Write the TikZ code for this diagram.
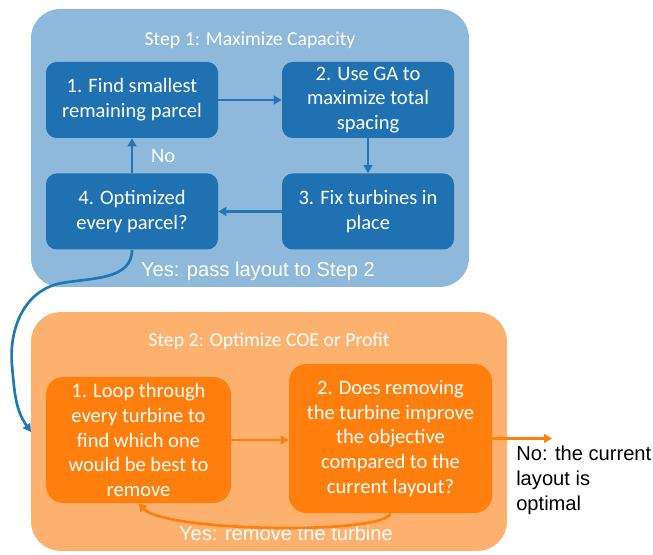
\documentclass[tikz,border=0pt]{standalone}
\usepackage{fontspec}
\setmainfont{Carlito}
\newfontfamily\arialfont{Liberation Sans}
\usepackage{tikz}
\usetikzlibrary{arrows.meta,positioning,calc}
\definecolor{panelblue}{RGB}{143,185,218}
\definecolor{boxblue}{RGB}{31,113,178}
\definecolor{lineblue}{RGB}{31,119,180}
\definecolor{panelorange}{RGB}{253,177,110}
\definecolor{boxorange}{RGB}{255,127,14}

\tikzset{
  panel/.style={rounded corners=22pt, inner sep=0pt},
  boxtext/.style={text=white, align=center, inner sep=2pt, font=\fontsize{15.4}{18.6}\selectfont},
  bluebox/.style={boxtext, fill=boxblue, rounded corners=8pt, minimum width=129pt, minimum height=57pt},
  orangebox/.style={boxtext, fill=boxorange, rounded corners=13pt},
  title/.style={text=white, font=\fontsize{14.8}{18}\selectfont},
  note/.style={font=\arialfont\fontsize{15.1}{18.8}\selectfont},
  bluearrow/.style={draw=lineblue, line width=2pt, -{Triangle[length=6pt,width=6.5pt]}},
  orangearrow/.style={draw=boxorange, line width=2pt, -{Triangle[length=6pt,width=6.5pt]}}
}

\begin{document}
\begin{tikzpicture}[x=0.75pt,y=-0.75pt]
\useasboundingbox (0,0) rectangle (653,555);

% step 1 panel
\node[panel, fill=panelblue, minimum width=328.5pt, minimum height=208.5pt] (step1) at (250,148) {};
\node[title] (t1) at (250,40) {Step 1: Maximize Capacity};
\node[bluebox] (b1) at (132,100) {1. Find smallest\\remaining parcel};
\node[bluebox] (b2) at (368,100) {2. Use GA to\\maximize total\\spacing};
\node[bluebox] (b3) at (368,211.5) {3. Fix turbines in\\place};
\node[bluebox] (b4) at (132,211.5) {4. Optimized\\every parcel?};
\node[note, text=white] (yes1) at (258,271) {Yes: pass layout to Step 2};

% step 2 panel
\node[panel, fill=panelorange, minimum width=357pt, minimum height=179pt] (step2) at (269,431.5) {};
\node[title] (t2) at (269,341) {Step 2: Optimize COE or Profit};
\node[orangebox, minimum width=138.75pt, minimum height=94.5pt] (o1) at (138.5,440)
  {1. Loop through\\every turbine to\\find which one\\would be best to\\remove};
\node[orangebox, minimum width=152.25pt, minimum height=111.75pt] (o2) at (390.5,438.5)
  {2. Does removing\\the turbine improve\\the objective\\compared to the\\current layout?};
\node[note, text=white] (yes2) at (286,533) {Yes: remove the turbine};
\node[note, anchor=north west, align=left, inner sep=0pt] (no2) at (516,446) {No: the current\\layout is\\optimal};

\coordinate (entry) at (31,432);
\coordinate (done) at (552,438.5);

% loop of step 1
\draw[bluearrow] (b1) -- (b2);
\draw[bluearrow] (b2) -- (b3);
\draw[bluearrow] (b3) -- (b4);
\draw[bluearrow] (b4) -- node[right=10pt, title, font=\fontsize{15.4}{18}\selectfont] {No} (b1);
\draw[bluearrow] (b4.south) to[out=-90,in=10] (62,283) to[out=190,in=95] (12,365) to[out=-85,in=125] (entry);

% step 2 arrows
\draw[orangearrow] (o1.east) -- (o1.east -| o2.west);
\draw[orangearrow] (o2.east) -- (done);
\draw[orangearrow] (o2.south) .. controls (385,535) and (165,532) .. (o1.south);
\end{tikzpicture}
\end{document}
